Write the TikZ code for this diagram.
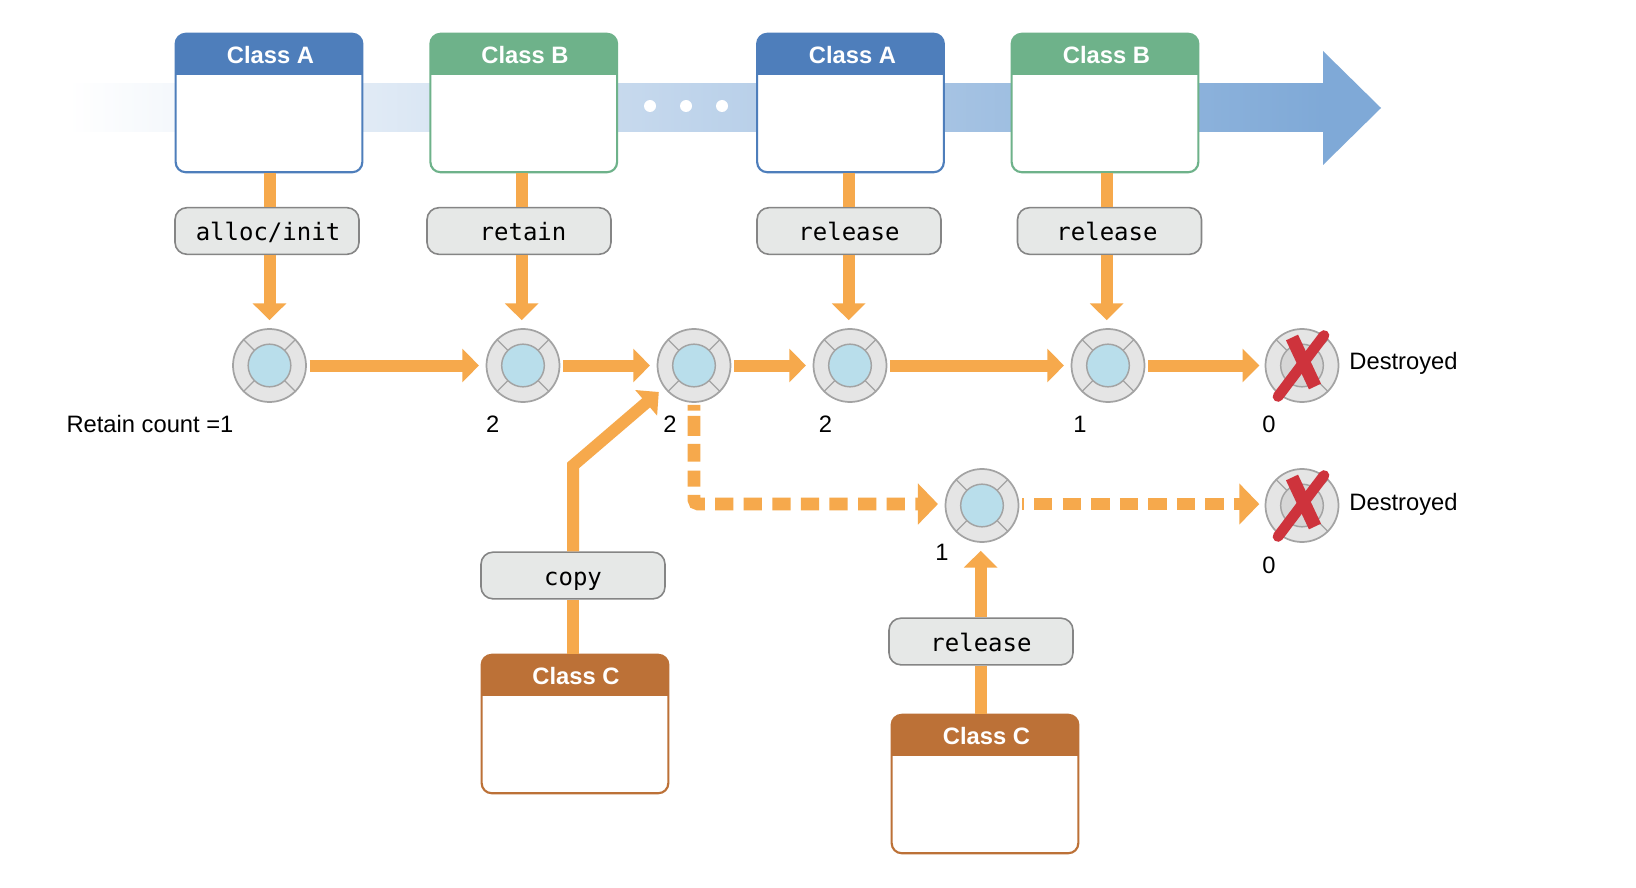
\documentclass[tikz,border=0pt]{standalone}
\usepackage{fontspec}
\setmainfont{Liberation Sans}
\setmonofont{DejaVu Sans Mono}
\usetikzlibrary{arrows.meta}
\definecolor{flowC}{HTML}{F6A94C}
\definecolor{blueC}{HTML}{4E7EBB}
\definecolor{greenC}{HTML}{6EB28A}
\definecolor{brownC}{HTML}{BC7137}
\definecolor{bandC}{HTML}{7FA9D7}
\definecolor{lblFill}{HTML}{E6E8E7}
\definecolor{lblLine}{HTML}{858585}
\definecolor{ringFill}{HTML}{E5E5E5}
\definecolor{ringLine}{HTML}{A3A3A3}
\definecolor{coreC}{HTML}{B9DEEB}
\definecolor{coreDead}{HTML}{D6D6D6}
\definecolor{redC}{HTML}{CE333C}
\tikzset{
  classbox/.style={draw=#1, line width=1.6pt, fill=white, rounded corners=7.5pt, inner sep=0pt,
    minimum width=140pt, minimum height=103.8pt,
    path picture={\fill[#1, sharp corners] (path picture bounding box.north west) rectangle ([yshift=-30.75pt]path picture bounding box.north east);}},
  classtitle/.style={anchor=base, inner sep=0pt, text=white, font=\fontsize{17.8}{20}\selectfont\bfseries},
  lblbox/.style={draw=lblLine, line width=1.2pt, fill=lblFill, rounded corners=9pt, inner sep=0pt,
    minimum width=138pt, minimum height=35pt, text height=16pt, text depth=1pt,
    font=\fontsize{18}{20}\selectfont\ttfamily},
  ring/.style={circle, draw=ringLine, line width=1.3pt, fill=ringFill, inner sep=0pt, minimum size=54.75pt,
    path picture={
      \foreach \a in {45,135,225,315}
        \draw[ringLine, line width=1pt] ([shift={(\a:16pt)}]path picture bounding box.center) -- ([shift={(\a:28pt)}]path picture bounding box.center);
      \draw[ringLine, line width=1.1pt, fill=#1] (path picture bounding box.center) circle[radius=16pt];}},
  plainflow/.style={draw=flowC, line width=9pt},
  flow/.style={plainflow, -{Triangle[length=12.5pt,width=24.5pt]}},
  hflow/.style={flow, shorten <=2pt, shorten >=5pt},
  dflow/.style={flow, shorten >=6pt},
  dashflow/.style={draw=flowC, line width=9.5pt, -{Triangle[length=15pt,width=30pt]}},
  cnt/.style={anchor=base, inner sep=0pt, font=\fontsize{17.8}{20}\selectfont},
  cross/.style={draw=redC, line cap=round},
  dotmark/.style={circle, fill=white, inner sep=0pt, minimum size=9pt},
}
\begin{document}
\begin{tikzpicture}[x=0.75pt,y=-0.75pt]
\useasboundingbox (0,0) rectangle (1636,888);
\fill[white] (0,0) rectangle (1636,888);
% time band
\shade[left color=white, right color=bandC, shading angle=90] (68,84) rectangle (1323,132);
\fill[bandC] (1323,51) -- (1381,108) -- (1323,165) -- cycle;
\node[dotmark] (d1) at (650,106) {};
\node[dotmark] (d2) at (686,106) {};
\node[dotmark] (d3) at (722,106) {};
% classes
\node[classbox=blueC]  (ca1) at (269,103) {};
\node[classbox=greenC] (cb1) at (523.75,103) {};
\node[classbox=blueC]  (ca2) at (850.5,103) {};
\node[classbox=greenC] (cb2) at (1105,103) {};
\node[classbox=brownC] (cc1) at (575,724) {};
\node[classbox=brownC] (cc2) at (985,784) {};
\node[classtitle] (ta1) at (270.5,64) {Class A};
\node[classtitle] (tb1) at (525,64) {Class B};
\node[classtitle] (ta2) at (852.5,64) {Class A};
\node[classtitle] (tb2) at (1106.5,64) {Class B};
\node[classtitle] (tc1) at (576,684) {Class C};
\node[classtitle] (tc2) at (986.5,744) {Class C};
% method labels
\node[lblbox] (l1) at (267,231) {\hspace*{1.5pt}alloc/init};
\node[lblbox] (l2) at (519,231) {\hspace*{6pt}retain};
\node[lblbox] (l3) at (849,231) {release};
\node[lblbox] (l4) at (1109.5,231) {release\hspace*{3.75pt}};
\node[lblbox] (l5) at (573,575.5) {copy};
\node[lblbox] (l6) at (981,641.5) {release};
% retain count rings
\node[ring=coreC] (r1) at (269.5,365.5) {};
\node[ring=coreC] (r2) at (523,365.5) {};
\node[ring=coreC] (r3) at (694,365.5) {};
\node[ring=coreC] (r4) at (850,365.5) {};
\node[ring=coreC] (r5) at (1108,365.5) {};
\node[ring=coreDead] (r6) at (1302,365.5) {};
\node[ring=coreC] (r7) at (982,505.5) {};
\node[ring=coreDead] (r8) at (1302,505.5) {};
% red crosses
\foreach \n in {r6,r8}{
  \draw[cross, line width=8pt] ([shift={(-24,31)}]\n.center) -- ([shift={(22,-30)}]\n.center);
  \draw[cross, line width=10pt, line cap=butt] ([shift={(-10,-28)}]\n.center) -- ([shift={(13,21)}]\n.center);
}
% connector columns
\coordinate (x1) at (r1.north);
\coordinate (x2) at ([xshift=-1pt]r2.north);
\coordinate (x4) at ([xshift=-1pt]r4.north);
\coordinate (x5) at ([xshift=-1pt]r5.north);
\coordinate (x7) at ([xshift=-1pt]r7.south);
\coordinate (jw) at ([yshift=1.1pt]r7.west);
\coordinate (je) at ([yshift=1.1pt]r7.east);
\coordinate (jd) at ([yshift=1.1pt]r8.west);
% connectors from classes
\draw[plainflow] (x1 |- ca1.south) -- (x1 |- l1.north);
\draw[plainflow] (x2 |- cb1.south) -- (x2 |- l2.north);
\draw[plainflow] (x4 |- ca2.south) -- (x4 |- l3.north);
\draw[plainflow] (x5 |- cb2.south) -- (x5 |- l4.north);
\draw[dflow] (x1 |- l1.south) -- (x1);
\draw[dflow] (x2 |- l2.south) -- (x2);
\draw[dflow] (x4 |- l3.south) -- (x4);
\draw[dflow] (x5 |- l4.south) -- (x5);
% count line
\draw[hflow] (r1) -- (r2);
\draw[hflow] (r2) -- (r3);
\draw[hflow] (r3) -- (r4);
\draw[hflow] (r4) -- (r5);
\draw[hflow, shorten >=4pt] (r5) -- (r6);
% copy branch
\coordinate (bend) at (573,465.5);
\coordinate (copytip) at (658.8,392);
\draw[plainflow] (l5.south) -- (l5.south |- cc1.north);
\draw[flow] (l5.north) -- (bend) -- (copytip);
\draw[dashflow, rounded corners=3pt, shorten <=1.5pt, shorten >=5pt,
  dash pattern=on 4.3pt off 4pt on 15pt off 6pt on 13.3pt off 6.75pt on 12pt off 6.2pt on 13.5pt off 7.7pt
  on 13.7pt off 7.75pt on 13.7pt off 7.75pt on 13.7pt off 7.75pt on 13.7pt off 7.75pt
  on 13.7pt off 7.75pt on 13.7pt off 7.75pt on 13.7pt off 7.75pt on 13.7pt off 7.75pt]
  (r3.south) |- (jw);
\draw[dashflow, shorten <=2pt, shorten >=4pt, dash pattern=on 13.7pt off 7.7pt, dash phase=12.3pt] (je) -- (jd);
% release branch
\draw[plainflow] (x7 |- l6.south) -- (x7 |- cc2.north);
\draw[flow] (x7 |- l6.north) -- ([yshift=-6pt]x7);
% counts
\node[cnt] (n1) at (150,432) {Retain count =1};
\node[cnt] (n2) at (492.7,432) {2};
\node[cnt] (n3) at (670,432) {2};
\node[cnt] (n4) at (825.5,432) {2};
\node[cnt] (n5) at (1080,432) {1};
\node[cnt] (n6) at (1269,432) {0};
\node[cnt] (n7) at (942,560) {1};
\node[cnt] (n8) at (1269,573) {0};
\node[cnt] (x1t) at (1403.5,369.5) {Destroyed};
\node[cnt] (x2t) at (1403.5,510.5) {Destroyed};
\end{tikzpicture}
\end{document}
